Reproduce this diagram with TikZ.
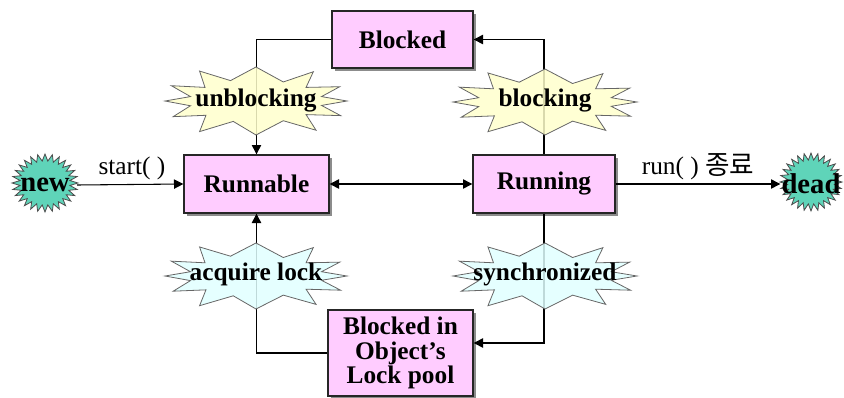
\documentclass[tikz,border=0pt]{standalone}
\usepackage{fontspec}
\setmainfont{Liberation Serif}
\newfontfamily\krfont{Noto Sans CJK KR}
\usetikzlibrary{arrows.meta,shadows}

\definecolor{boxpink}{RGB}{255,204,255}
\definecolor{burstyellow}{RGB}{255,255,204}
\definecolor{burstcyan}{RGB}{224,255,255}
\definecolor{spikyteal}{RGB}{95,212,185}

\tikzset{
  state/.style={draw=black!85, line width=1pt, fill=boxpink,
    drop shadow={shadow xshift=2.4pt, shadow yshift=-2.4pt, fill=black!45, opacity=1},
    font=\bfseries\fontsize{19}{18.4}\selectfont, align=center, inner sep=0pt},
  link/.style={draw=black, line width=0.8pt},
  arr/.style={link, -{Triangle[length=7pt,width=7pt]}},
  biarr/.style={link, {Triangle[length=7pt,width=7pt]}-{Triangle[length=7pt,width=7pt]}},
  burstline/.style={draw=black!60, line width=0.6pt, fill opacity=0.85},
  burstlabel/.style={font=\bfseries\fontsize{19}{19}\selectfont, inner sep=0pt},
  endlabel/.style={font=\bfseries\fontsize{21.5}{21.5}\selectfont, inner sep=0pt},
  edgelabel/.style={font=\fontsize{19}{19}\selectfont, inner sep=0pt},
}

% explosion outline around (#1,#2) with half-sizes #3, #4 (pixels)
\newcommand\burst[5]{%
  \filldraw[burstline, fill=#5] ({#1+1.0*#3},{#2})
  \foreach \p/\q in {0.72/0.13, 0.92/0.42, 0.55/0.40, 0.63/0.86, 0.30/0.56,
      0.0/1.0, -0.28/0.60, -0.62/0.88, -0.56/0.40, -0.93/0.45, -0.72/0.13,
      -1.0/0.0, -0.72/-0.14, -0.91/-0.46, -0.55/-0.42, -0.62/-0.90, -0.25/-0.60,
      0.0/-1.0, 0.30/-0.58, 0.66/-0.86, 0.55/-0.40, 0.93/-0.43, 0.72/-0.13}
    { -- ({#1+\p*#3},{#2-\q*#4}) } -- cycle;}

% round spiky seal around (#1,#2) with radii #3, #4 (pixels)
\newcommand\spiky[4]{%
  \filldraw[draw=black!70, line width=0.6pt, fill=spikyteal] ({#1+#3},{#2})
  \foreach \i in {1,...,55}
    { -- ({#1+cos(\i*6.4286)*#3*(1-0.24*mod(\i,2))},{#2+sin(\i*6.4286)*#4*(1-0.24*mod(\i,2))}) } -- cycle;}

\begin{document}
\begin{tikzpicture}[x=0.75pt, y=-0.75pt]
  \useasboundingbox (0,0) rectangle (844,397);

  % states
  \node[state, minimum width=105.75pt, minimum height=42.75pt] (blocked) at (402.5,39.5) {Blocked};
  \node[state, minimum width=108.75pt, minimum height=43.5pt] (runnable) at (256.5,184) {Runnable};
  \node[state, minimum width=106.5pt, minimum height=43.5pt] (running) at (544,184) {Running};
  \node[state, minimum width=108.75pt, minimum height=64.5pt] (lockpool) at (400.5,353) {Blocked in\\Object’s\\Lock pool};

  % start and end seals
  \spiky{45}{183}{33}{29}
  \node[endlabel] (new) at (45,185) {new};
  \spiky{811}{182}{31}{29}
  \node[endlabel] (dead) at (811,184) {dead};

  % transitions
  \draw[arr] (blocked.west) -| (runnable.north);
  \draw[arr] (running.north) |- (blocked.east);
  \draw[arr] (running.south) |- ([yshift=7.5pt]lockpool.east);
  \draw[arr] (lockpool.west) -| (runnable.south);
  \draw[biarr] (runnable.east) -- (running.west);
  \draw[arr] ([xshift=24pt]new.center) -- (runnable.west);
  \draw[arr] (running.east) -- ([xshift=-23pt]dead.center);

  \node[edgelabel] (startlbl) at (132,168) {start( )};
  \node[edgelabel] (runlbl) at (698,167) {run( ) {\krfont\fontsize{20}{20}\selectfont 종료}};

  % transition conditions
  \burst{256}{101}{91}{34}{burstyellow}
  \node[burstlabel] (unblk) at (256,101) {unblocking};
  \burst{545}{102}{92}{33}{burstyellow}
  \node[burstlabel] (blk) at (545,101) {blocking};
  \burst{256}{276}{91}{33}{burstcyan}
  \node[burstlabel] (acq) at (256,274) {acquire lock};
  \burst{545}{276}{92}{33}{burstcyan}
  \node[burstlabel] (sync) at (545,274) {synchronized};
\end{tikzpicture}
\end{document}
